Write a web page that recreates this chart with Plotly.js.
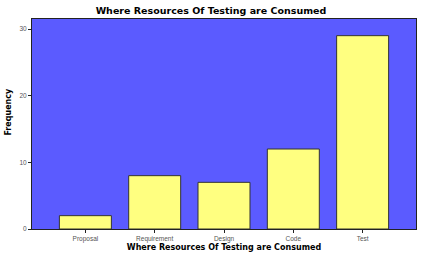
<!DOCTYPE html>
<html><head><meta charset="utf-8">
<script src="https://cdn.plot.ly/plotly-3.0.1.min.js"></script>
<style>html,body{margin:0;padding:0;background:#fff}#chart{width:422px;height:258px}</style>
</head><body><div id="chart"></div>
<script>
const categories = ["Proposal", "Requirement", "Design", "Code", "Test"];
const frequency = [2, 8, 7, 12, 29];
const yTicks = [0, 10, 20, 30];
const titleText = "Where Resources Of Testing are Consumed";
const yTitle = "Frequency";

const trace = {
  type: "bar",
  x: categories,
  y: frequency,
  width: 0.75,
  marker: {color: "#ffff80", line: {color: "#333333", width: 1}},
  hoverinfo: "x+y"
};

const font = "DejaVu Sans, Arial, sans-serif";
const layout = {
  width: 422, height: 258,
  margin: {l: 32, r: 6, t: 19, b: 29},
  paper_bgcolor: "#ffffff",
  plot_bgcolor: "#5b5bff",
  showlegend: false,
  title: {text: "<b>" + titleText + "</b>", x: 0.5, xanchor: "center", y: 0.97, yanchor: "top",
          font: {family: font, size: 9.5, color: "#000"}},
  xaxis: {
    type: "category", range: [-0.77, 4.77],
    showline: true, linecolor: "#222", linewidth: 1, mirror: true,
    ticks: "outside", ticklen: 3, tickcolor: "#222", showgrid: false,
    tickfont: {family: "Liberation Sans, Arial, sans-serif", size: 6.5, color: "#555"},
    title: {text: "<b>" + titleText + "</b>", standoff: 2,
            font: {family: font, size: 8, color: "#000"}}
  },
  yaxis: {
    range: [0, 31.5], tickvals: yTicks, ticktext: yTicks.map(String),
    showline: true, linecolor: "#222", linewidth: 1, mirror: true,
    ticks: "outside", ticklen: 3, tickcolor: "#222", showgrid: false, zeroline: false,
    tickfont: {family: "Liberation Sans, Arial, sans-serif", size: 6.5, color: "#555"}
  },
  annotations: [{
    text: "<b>" + yTitle + "</b>", textangle: -90, showarrow: false,
    xref: "paper", yref: "paper", x: -0.062, y: 0.56, xanchor: "center", yanchor: "middle",
    font: {family: font, size: 8, color: "#000"}
  }]
};

Plotly.newPlot("chart", [trace], layout, {displayModeBar: false, staticPlot: true});
</script>
</body></html>
